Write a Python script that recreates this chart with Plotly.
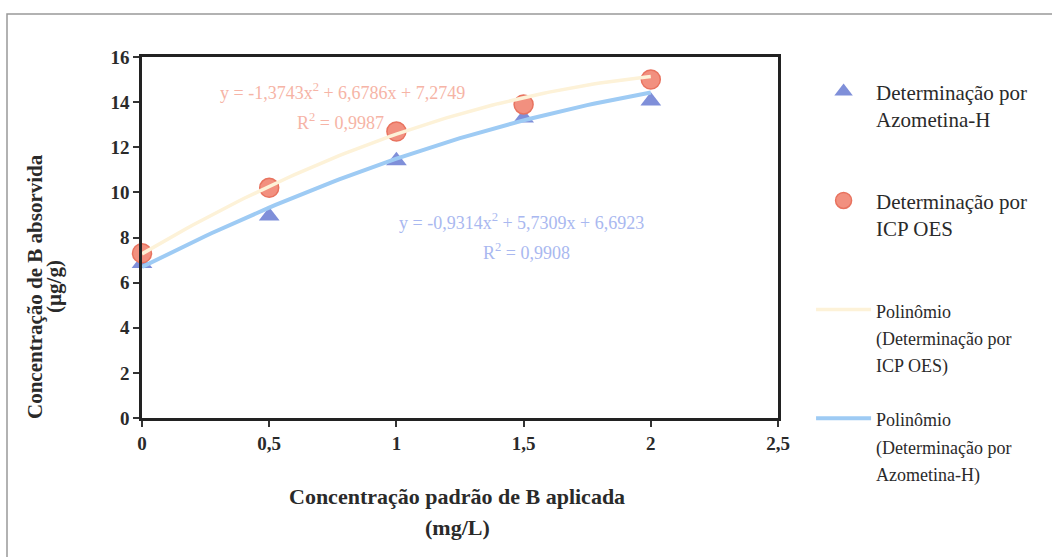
import numpy as np
import plotly.graph_objects as go

# Data
x_conc = [0, 0.5, 1, 1.5, 2]
azometina = [6.85, 8.95, 11.4, 13.3, 14.05]
icp_oes = [7.3, 10.2, 12.7, 13.9, 15.0]

# Trendline coefficients shown on the chart (a*x^2 + b*x + c)
coef_icp = [-1.3743, 6.6786, 7.2749]
coef_azo = [-0.9314, 5.7309, 6.6923]

x_ticks = [0, 0.5, 1, 1.5, 2, 2.5]
y_ticks = [0, 2, 4, 6, 8, 10, 12, 14, 16]

xs = np.linspace(0, 2, 81)
fit_icp = np.polyval(coef_icp, xs)
fit_azo = np.polyval(coef_azo, xs)

SERIF = "Liberation Serif"
AZO_COLOR = "#7f8fd9"
ICP_FILL = "#f2907f"
ICP_EDGE = "#e8735f"
BLUE_LINE = "#9ecbf4"
CREAM_LINE = "#fdf2d8"
TEXT = "#2a2a2a"

fig = go.Figure()

fig.add_trace(go.Scatter(
    x=x_conc, y=azometina, mode="markers",
    name="Determinação por<br>Azometina-H<br> ",
    marker=dict(symbol="triangle-up", size=18, color=AZO_COLOR,
                line=dict(width=0)),
    legendgroup="a", legendrank=1, cliponaxis=False))

fig.add_trace(go.Scatter(
    x=x_conc, y=icp_oes, mode="markers",
    name="Determinação por<br>ICP OES<br> ",
    marker=dict(symbol="circle", size=19, color=ICP_FILL,
                line=dict(width=1.5, color=ICP_EDGE)),
    legendgroup="b", legendrank=2, cliponaxis=False))

fig.add_trace(go.Scatter(
    x=xs, y=fit_azo, mode="lines",
    name="<span style='font-size:18px'>Polinômio<br>(Determinação por<br>Azometina-H)</span>",
    line=dict(color=BLUE_LINE, width=4),
    legendgroup="d", legendrank=4, cliponaxis=False))

fig.add_trace(go.Scatter(
    x=xs, y=fit_icp, mode="lines",
    name="<span style='font-size:18px'>Polinômio<br>(Determinação por<br>ICP OES)</span>",
    line=dict(color=CREAM_LINE, width=3.5),
    legendgroup="c", legendrank=3, cliponaxis=False))

RED_TXT = "#f6b4a6"
BLUE_TXT = "#a9b8f0"
annotations = [
    dict(x=0.79, y=14.45, xref="x", yref="y",
         text="y = -1,3743x<sup>2</sup> + 6,6786x + 7,2749",
         showarrow=False, font=dict(family=SERIF, size=18, color=RED_TXT)),
    dict(x=0.78, y=13.12, xref="x", yref="y",
         text="R<sup>2</sup> = 0,9987",
         showarrow=False, font=dict(family=SERIF, size=18, color=RED_TXT)),
    dict(x=1.49, y=8.69, xref="x", yref="y",
         text="y = -0,9314x<sup>2</sup> + 5,7309x + 6,6923",
         showarrow=False, font=dict(family=SERIF, size=18, color=BLUE_TXT)),
    dict(x=1.51, y=7.36, xref="x", yref="y",
         text="R<sup>2</sup> = 0,9908",
         showarrow=False, font=dict(family=SERIF, size=18, color=BLUE_TXT)),
    # y axis title (two lines)
    dict(x=(35 - 142) / 636, y=(418 - 287) / 361, xref="paper", yref="paper",
         textangle=-90, xanchor="center", yanchor="middle",
         text="<b>Concentração de B absorvida</b>",
         showarrow=False, font=dict(family=SERIF, size=21, color=TEXT)),
    dict(x=(54 - 142) / 636, y=(418 - 287) / 361, xref="paper", yref="paper",
         textangle=-90, xanchor="center", yanchor="middle",
         text="<b>(µg/g)</b>",
         showarrow=False, font=dict(family=SERIF, size=21, color=TEXT)),
    # x axis title (two lines)
    dict(x=(457 - 142) / 636, y=(418 - 497) / 361, xref="paper", yref="paper",
         xanchor="center", yanchor="middle",
         text="<b>Concentração padrão de B aplicada</b>",
         showarrow=False, font=dict(family=SERIF, size=22, color=TEXT)),
    dict(x=(457 - 142) / 636, y=(418 - 527) / 361, xref="paper", yref="paper",
         xanchor="center", yanchor="middle",
         text="<b>(mg/L)</b>",
         showarrow=False, font=dict(family=SERIF, size=22, color=TEXT)),
]

shapes = [
    # outer figure frame
    dict(type="rect", xref="paper", yref="paper",
         x0=(7 - 142) / 636, x1=1.45, y0=-0.5, y1=(418 - 14) / 361,
         line=dict(color="#999", width=1.5), fillcolor="rgba(0,0,0,0)",
         layer="below"),
]

fig.update_layout(
    width=1052, height=557,
    margin=dict(l=142, r=274, t=57, b=139),
    paper_bgcolor="white", plot_bgcolor="white",
    separators=",.",
    font=dict(family=SERIF, size=18, color=TEXT),
    showlegend=True,
    legend=dict(x=1.052, y=0.96, xanchor="left", yanchor="top",
                traceorder="grouped", tracegroupgap=24, valign="top",
                font=dict(family=SERIF, size=21, color=TEXT),
                bgcolor="rgba(0,0,0,0)", itemwidth=55, maxheight=540),
    annotations=annotations,
    shapes=shapes,
)

axis_common = dict(ticks="outside", ticklen=6, tickwidth=1.5, tickcolor="#333",
                   showline=True, linewidth=2.5, linecolor="#222", mirror=True,
                   showgrid=False, zeroline=False,
                   tickfont=dict(family=SERIF, size=19, color=TEXT, weight="bold"))
fig.update_xaxes(range=[0, 2.5], tickvals=x_ticks, **axis_common)
fig.update_yaxes(range=[0, 16], tickvals=y_ticks, **axis_common)

fig.write_html("out.html", config={"displayModeBar": False},
               post_script="document.body.style.margin='0px';")
